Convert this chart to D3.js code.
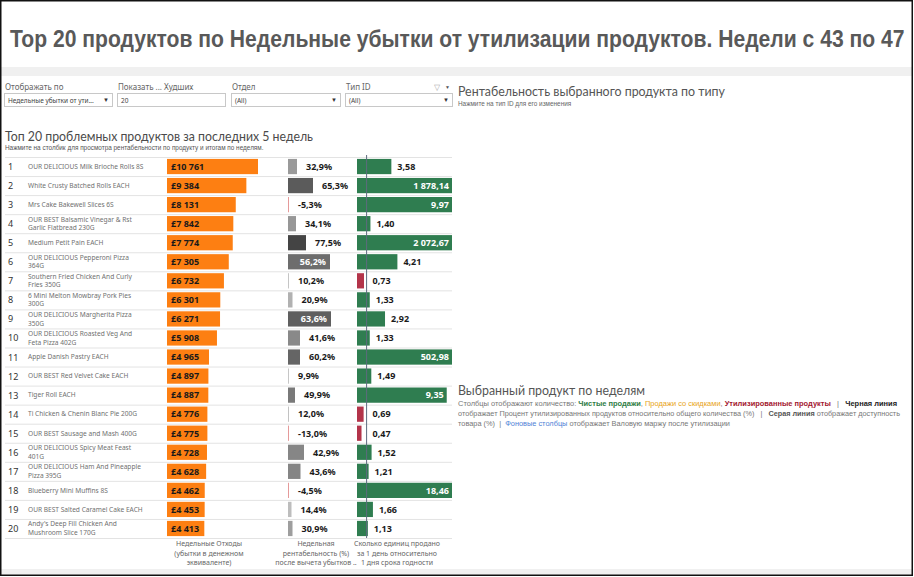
<!DOCTYPE html>
<html>
<head>
<meta charset="utf-8">
<script src="https://cdn.jsdelivr.net/npm/d3@7"></script>
<style>
  body { margin: 0; background: #fff; }
  svg { display: block; font-family: "Noto Sans", "Open Sans", sans-serif; }
</style>
</head>
<body>
<svg width="914" height="577"></svg>
<script>
"use strict";

// data
const ranks = d3.range(1, 21);
const products = [
  "OUR DELICIOUS Milk Brioche Rolls 8S",
  "White Crusty Batched Rolls EACH",
  "Mrs Cake Bakewell Slices 6S",
  "OUR BEST Balsamic Vinegar & Rst\nGarlic Flatbread 230G",
  "Medium Petit Pain EACH",
  "OUR DELICIOUS Pepperoni Pizza\n364G",
  "Southern Fried Chicken And Curly\nFries 350G",
  "6 Mini Melton Mowbray Pork Pies\n300G",
  "OUR DELICIOUS Margherita Pizza\n350G",
  "OUR DELICIOUS Roasted Veg And\nFeta Pizza 402G",
  "Apple Danish Pastry EACH",
  "OUR BEST Red Velvet Cake EACH",
  "Tiger Roll EACH",
  "Ti Chicken & Chenin Blanc Pie 200G",
  "OUR BEST Sausage and Mash 400G",
  "OUR DELICIOUS Spicy Meat Feast\n401G",
  "OUR DELICIOUS Ham And Pineapple\nPizza 395G",
  "Blueberry Mini Muffins 8S",
  "OUR BEST Salted Caramel Cake EACH",
  "Andy's Deep Fill Chicken And\nMushroom Slice 170G"
];
const weeklyLoss = [10761, 9384, 8131, 7842, 7774, 7305, 6732, 6301, 6271, 5908,
                    4965, 4897, 4887, 4776, 4775, 4728, 4628, 4462, 4453, 4413];
const profitPct = [32.9, 65.3, -5.3, 34.1, 77.5, 56.2, 10.2, 20.9, 63.6, 41.6,
                   60.2, 9.9, 49.9, 12.0, -13.0, 42.9, 43.6, -4.5, 14.4, 30.9];
// bar length of the profitability column (estimated relative size)
const profitSize = [9, 25, 0, 8, 18, 42, 1, 4.5, 43, 12,
                    12, 1, 7, 1, 0, 16, 12.5, 0, 3.5, 4.5];
const unitsRatio = [3.58, 1878.14, 9.97, 1.40, 2072.67, 4.21, 0.73, 1.33, 2.92, 1.33,
                    502.98, 1.49, 9.35, 0.69, 0.47, 1.52, 1.21, 18.46, 1.66, 1.13];
const columnTitles = [
  ["Недельные Отходы", "(убытки в денежном", "эквиваленте)"],
  ["Недельная", "рентабельность (%)", "после вычета убытков .."],
  ["Сколько единиц продано", "за 1 день относительно", "1 дня срока годности"]
];
const filterLabels = ["Отображать по", "Показать ... Худших", "Отдел", "Тип ID"];
const filterValues = ["Недельные убытки от ути...", "20", "(All)", "(All)"];

const fmt = d3.formatLocale({decimal: ",", thousands: "\u00a0", grouping: [3], currency: ["£", ""], minus: "-"});
const fmtLoss = fmt.format("$,d");
const fmtPct = v => fmt.format(".1f")(v) + "%";
const fmtUnits = fmt.format(",.2f");

const svg = d3.select("svg");
const W = 914, H = 577;
const smallFont = "'Liberation Sans', Arial, sans-serif";
const lightFont = "Lato, 'Open Sans', sans-serif";

// frame & bands
svg.append("rect").attr("x", 0).attr("y", 0).attr("width", W).attr("height", H).attr("fill", "#fff");
svg.append("rect").attr("x", 1).attr("y", 67).attr("width", W - 2).attr("height", 9).attr("fill", "#f0f0f0");
svg.append("rect").attr("x", 1).attr("y", 569).attr("width", W - 2).attr("height", 6).attr("fill", "#f0f0f0");
svg.append("rect").attr("x", 0.75).attr("y", 0.75).attr("width", W - 2.5).attr("height", H - 2.5)
  .attr("fill", "none").attr("stroke", "#111").attr("stroke-width", 1.5);

// title (squeezed horizontally to the width it has in the picture)
const title = svg.append("text")
  .attr("x", 0).attr("y", 0)
  .attr("font-family", "'Liberation Sans', Arial, sans-serif")
  .attr("font-weight", "bold").attr("font-size", 24).attr("fill", "#595959")
  .text("Top 20 продуктов по Недельные убытки от утилизации продуктов. Недели с 43 по 47");
const titleLen = title.node().getComputedTextLength();
title.attr("transform", `translate(10,47) scale(${895 / titleLen},1)`);

// filters
const filterX = [4, 117, 231, 345];
const filterW = [108, 108, 109, 107];
filterLabels.forEach((lab, i) => {
  svg.append("text").attr("x", filterX[i] + 1).attr("y", 90)
    .attr("font-size", 8).attr("fill", "#666").text(lab);
  svg.append("rect").attr("x", filterX[i] + 0.5).attr("y", 93.5)
    .attr("width", filterW[i]).attr("height", 13)
    .attr("fill", "#fff").attr("stroke", "#c8c8c8");
  svg.append("text").attr("x", filterX[i] + 4).attr("y", 103)
    .attr("font-size", 6.5).attr("fill", "#444").text(filterValues[i]);
  if (i !== 1) {
    svg.append("text").attr("x", filterX[i] + filterW[i] - 9).attr("y", 102)
      .attr("font-size", 6).attr("fill", "#333").text("▼");
  }
});
svg.append("text").attr("x", 434).attr("y", 90).attr("font-size", 8).attr("fill", "#aaa").text("▽");
svg.append("text").attr("x", 445).attr("y", 89).attr("font-size", 5).attr("fill", "#555").text("▼");

// right panel headings
svg.append("text").attr("x", 458).attr("y", 96).attr("font-size", 13).attr("fill", "#555")
  .attr("font-family", lightFont)
  .attr("textLength", 267).attr("lengthAdjust", "spacingAndGlyphs")
  .text("Рентабельность выбранного продукта по типу");
svg.append("text").attr("x", 458).attr("y", 106).attr("font-size", 6.4).attr("fill", "#666")
  .attr("font-family", smallFont)
  .text("Нажмите на тип ID для его изменения");

svg.append("text").attr("x", 458).attr("y", 395).attr("font-size", 13).attr("fill", "#555")
  .attr("font-family", lightFont)
  .attr("textLength", 187).attr("lengthAdjust", "spacingAndGlyphs")
  .text("Выбранный продукт по неделям");

const legendLines = [
  [["Столбцы отображают количество: ", "#777", "normal"], ["Чистые продажи", "#2f7d46", "bold"],
   [", ", "#777", "normal"], ["Продажи со скидками", "#e8a317", "normal"], [", ", "#777", "normal"],
   ["Утилизированные продукты", "#a3172f", "bold"], ["   |   ", "#777", "normal"], ["Черная линия", "#222", "bold"]],
  [["отображает Процент утилизированных продуктов относительно общего количества (%)   |   ", "#777", "normal"],
   ["Серая линия", "#555", "bold"], [" отображает доступность", "#777", "normal"]],
  [["товара (%)  |  ", "#777", "normal"], ["Фоновые столбцы", "#4f7fd6", "normal"],
   [" отображает Валовую маржу после утилизации", "#777", "normal"]]
];
const legendLen = [439, 442, 272];
legendLines.forEach((parts, i) => {
  const t = svg.append("text").attr("x", 458).attr("y", 406 + i * 10).attr("font-size", 6.6)
    .attr("font-family", smallFont)
    .attr("textLength", legendLen[i]).attr("lengthAdjust", "spacingAndGlyphs")
    .attr("xml:space", "preserve").style("white-space", "pre");
  parts.forEach(p => t.append("tspan").attr("fill", p[1]).attr("font-weight", p[2]).text(p[0]));
});

// left panel headings
svg.append("text").attr("x", 5).attr("y", 140.5).attr("font-size", 13.5).attr("fill", "#4a4a4a")
  .attr("font-family", lightFont)
  .attr("textLength", 308).attr("lengthAdjust", "spacingAndGlyphs")
  .text("Топ 20 проблемных продуктов за последних 5 недель");
svg.append("text").attr("x", 5).attr("y", 150).attr("font-size", 6.4).attr("fill", "#555")
  .attr("font-family", smallFont)
  .text("Нажмите на столбик для просмотра рентабельности по продукту и итогам по неделям.");

// scales
const y = d3.scaleBand().domain(ranks).range([157, 538]).paddingInner(0.2).paddingOuter(0.1);
const xLoss = d3.scaleLinear().domain([0, 10761]).range([167, 258]);
const xProfit = d3.scaleLinear().domain([0, 43]).range([288, 331]);
const profitColor = d3.scaleLinear().domain([0, 80]).range(["#d9d9d9", "#3f3f3f"]).clamp(true);
const xUnits = d3.scaleLinear().domain([0, 9.9]).range([357, 452]).clamp(true);

const rows = ranks.map((r, i) => ({
  rank: r, name: products[i], loss: weeklyLoss[i], pct: profitPct[i],
  size: profitSize[i], units: unitsRatio[i]
}));

// row separators
svg.append("g").selectAll("line")
  .data(d3.range(21))
  .join("line")
  .attr("x1", 5).attr("x2", 452)
  .attr("y1", i => 157 + i * (381 / 20) + 0.5).attr("y2", i => 157 + i * (381 / 20) + 0.5)
  .attr("stroke", "#e3e3e3").attr("stroke-width", 1);

const row = svg.append("g").selectAll("g")
  .data(rows)
  .join("g")
  .attr("transform", d => `translate(0,${y(d.rank)})`);
const bh = y.bandwidth();

row.append("text")
  .attr("x", 8).attr("y", bh / 2 + 3.5)
  .attr("font-size", 9).attr("fill", "#333")
  .text(d => d.rank);

row.append("text")
  .attr("font-size", 6.6).attr("fill", "#707070")
  .each(function(d) {
    const lines = d.name.split("\n");
    const t = d3.select(this);
    lines.forEach((ln, k) => {
      t.append("tspan").attr("x", 28)
        .attr("y", bh / 2 + 2.3 + (k - (lines.length - 1) / 2) * 8.6)
        .text(ln);
    });
  });

// weekly loss
row.append("rect")
  .attr("x", xLoss(0)).attr("y", 0)
  .attr("width", d => xLoss(d.loss) - xLoss(0)).attr("height", bh)
  .attr("fill", "#fd7f12");
row.append("text")
  .attr("x", 171).attr("y", bh / 2 + 3.3)
  .attr("font-size", 9).attr("font-weight", "bold").attr("fill", "#1a1a1a")
  .text(d => fmtLoss(d.loss));

// profitability
const pw = d => d.pct < 0 ? 1 : Math.max(1, xProfit(d.size) - xProfit(0));
const pin = d => d.pct >= 0 && pw(d) > 35;
row.append("rect")
  .attr("x", xProfit(0)).attr("y", 0)
  .attr("width", pw)
  .attr("height", bh)
  .attr("fill", d => d.pct < 0 ? "#e59a9a" : profitColor(d.pct));
row.append("text")
  .attr("x", d => pin(d) ? xProfit(0) + pw(d) - 4 : xProfit(0) + pw(d) + 9)
  .attr("text-anchor", d => pin(d) ? "end" : "start")
  .attr("y", bh / 2 + 3.3)
  .attr("font-size", 9).attr("font-weight", "bold")
  .attr("fill", d => pin(d) ? "#fff" : "#1a1a1a")
  .text(d => fmtPct(d.pct));

// units sold per day of shelf life
const uw = d => xUnits(d.units) - xUnits(0);
row.append("rect")
  .attr("x", xUnits(0)).attr("y", 0)
  .attr("width", uw).attr("height", bh)
  .attr("fill", d => d.units < 1 ? "#b3344a" : "#2f7d50");
row.append("text")
  .attr("x", d => uw(d) > 60 ? xUnits(d.units) - 3 : Math.max(xUnits(d.units), xUnits(1)) + 6)
  .attr("text-anchor", d => uw(d) > 60 ? "end" : "start")
  .attr("y", bh / 2 + 3.3)
  .attr("font-size", 9).attr("font-weight", "bold")
  .attr("fill", d => uw(d) > 60 ? "#fff" : "#1a1a1a")
  .text(d => fmtUnits(d.units));

// reference line at 1
svg.append("line")
  .attr("x1", xUnits(1)).attr("x2", xUnits(1))
  .attr("y1", 155).attr("y2", 538)
  .attr("stroke", "#5d6b7e").attr("stroke-width", 1);

// column titles
const colCenters = [209, 316, 397];
columnTitles.forEach((lines, i) => {
  lines.forEach((ln, k) => {
    svg.append("text")
      .attr("x", colCenters[i]).attr("y", 546 + k * 9.5)
      .attr("text-anchor", "middle").attr("font-size", 7).attr("fill", "#666")
      .text(ln);
  });
});
</script>
</body>
</html>
